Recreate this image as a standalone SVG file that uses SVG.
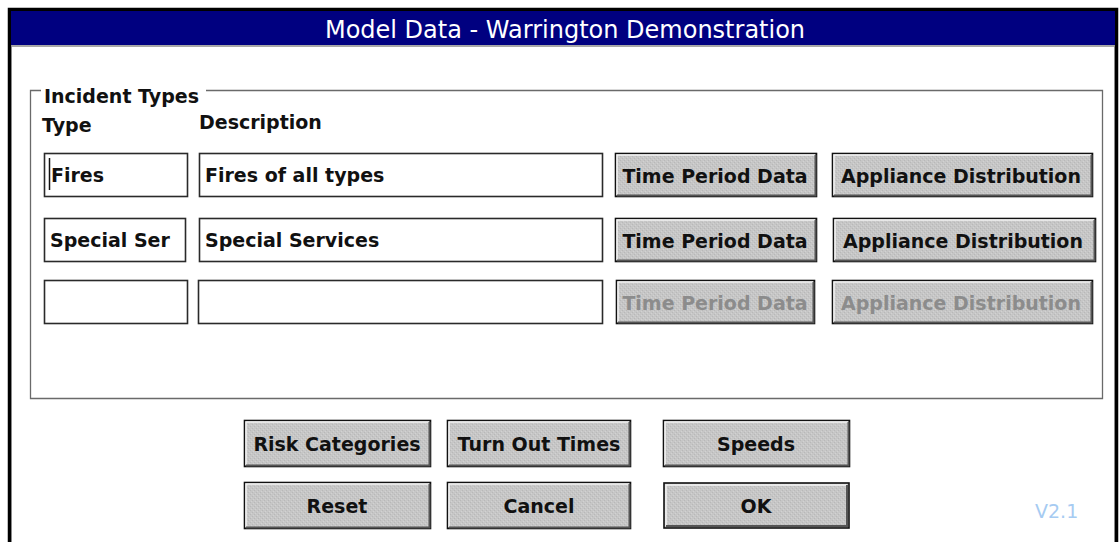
<svg xmlns="http://www.w3.org/2000/svg" width="1120" height="542" viewBox="0 0 1120 542">
<defs>
<pattern id="dith" width="4" height="4" patternUnits="userSpaceOnUse">
<rect width="4" height="4" fill="#c6c6c6"/>
<rect x="0" y="0" width="1" height="1" fill="#b8b8b8"/>
<rect x="2" y="2" width="1" height="1" fill="#b8b8b8"/>
<rect x="1" y="3" width="1" height="1" fill="#d2d2d2"/>
<rect x="3" y="1" width="1" height="1" fill="#d2d2d2"/>
</pattern>
</defs>
<style>
.btn{fill:url(#dith);stroke:#111;stroke-width:1.6}
.hl{fill:none;stroke:#f4f4f4;stroke-width:1.5}
.sh{fill:none;stroke:#555;stroke-width:2}
.bt{font-family:"DejaVu Sans",Verdana,sans-serif;font-weight:bold;font-size:19px;fill:#111;text-anchor:middle}
.dis{fill:#8c8c8c}
.lbl{font-family:"DejaVu Sans",Verdana,sans-serif;font-weight:bold;font-size:19px;fill:#111}
.box{fill:#fff;stroke:#2a2a2a;stroke-width:1.6}
</style>
<rect width="1120" height="542" fill="#fff"/>
<g id="window">
<rect x="9.5" y="9.5" width="1107" height="540" fill="#fff" stroke="#000" stroke-width="3.5"/>
<rect x="11" y="11" width="1104" height="34" fill="#000080"/>
<line x1="11" y1="46" x2="1115" y2="46" fill="none" stroke="#8a8a8a" stroke-width="1.5"/>
<line x1="11.5" y1="46" x2="11.5" y2="542" stroke="#8a8a8a" stroke-width="1"/>
<line x1="1114.5" y1="46" x2="1114.5" y2="542" stroke="#8a8a8a" stroke-width="1"/>
<text x="565" y="38" text-anchor="middle" font-family="'DejaVu Sans',Verdana,sans-serif" font-size="24" fill="#fff">Model Data - Warrington Demonstration</text>
</g>
<g id="group-incident-types">
<path d="M41 90.5 H30.5 V398.5 H1102.5 V90.5 H206" fill="none" stroke="#6a6a6a" stroke-width="1.3"/>
<text class="lbl" x="44" y="103">Incident Types</text>
<text class="lbl" x="42" y="132">Type</text>
<text class="lbl" x="199" y="129">Description</text>
</g>
<g id="row1">
<rect class="box" x="44.5" y="153.5" width="143" height="43"/>
<line x1="49.5" y1="158" x2="49.5" y2="190" stroke="#111" stroke-width="1.5"/>
<text class="lbl" x="51" y="182">Fires</text>
<rect class="box" x="199.5" y="153.5" width="403" height="43"/>
<text class="lbl" x="205" y="182">Fires of all types</text>
</g>
<g id="row2">
<rect class="box" x="44.5" y="218.5" width="141" height="43"/>
<text class="lbl" x="50" y="247">Special Ser</text>
<rect class="box" x="199.5" y="218.5" width="403" height="43"/>
<text class="lbl" x="205" y="247">Special Services</text>
</g>
<g id="row3">
<rect class="box" x="44.5" y="280.5" width="143" height="43"/>
<rect class="box" x="198.5" y="280.5" width="404" height="43"/>
</g>
<g id="btn-tpd1">
<rect class="btn" x="615.5" y="153.5" width="201" height="43"/>
<path class="hl" d="M617 195 V155 H815"/><path class="sh" d="M617 195.5 H815.5 V155"/>
<text class="bt" x="715" y="183">Time Period Data</text>
</g>
<g id="btn-ad1">
<rect class="btn" x="832.5" y="153.5" width="260" height="43"/>
<path class="hl" d="M834 195 V155 H1091"/><path class="sh" d="M834 195.5 H1091.5 V155"/>
<text class="bt" x="961" y="183">Appliance Distribution</text>
</g>
<g id="btn-tpd2">
<rect class="btn" x="615.5" y="218.5" width="201" height="43"/>
<path class="hl" d="M617 260 V220 H815"/><path class="sh" d="M617 260.5 H815.5 V220"/>
<text class="bt" x="715" y="248">Time Period Data</text>
</g>
<g id="btn-ad2">
<rect class="btn" x="833.5" y="218.5" width="262" height="43"/>
<path class="hl" d="M835 260 V220 H1094"/><path class="sh" d="M835 260.5 H1094.5 V220"/>
<text class="bt" x="963" y="248">Appliance Distribution</text>
</g>
<g id="btn-tpd3">
<rect class="btn" x="616.5" y="280.5" width="198" height="43"/>
<path class="hl" d="M618 322 V282 H813"/><path class="sh" d="M618 322.5 H813.5 V282"/>
<text class="bt dis" x="715" y="310">Time Period Data</text>
</g>
<g id="btn-ad3">
<rect class="btn" x="832.5" y="280.5" width="260" height="43"/>
<path class="hl" d="M834 322 V282 H1091"/><path class="sh" d="M834 322.5 H1091.5 V282"/>
<text class="bt dis" x="961" y="310">Appliance Distribution</text>
</g>
<g id="btn-risk">
<rect class="btn" x="244.5" y="420.5" width="186" height="46"/>
<path class="hl" d="M246 465 V422 H429"/><path class="sh" d="M246 465.5 H429.5 V422"/>
<text class="bt" x="337" y="451">Risk Categories</text>
</g>
<g id="btn-turnout">
<rect class="btn" x="447.5" y="420.5" width="183" height="46"/>
<path class="hl" d="M449 465 V422 H629"/><path class="sh" d="M449 465.5 H629.5 V422"/>
<text class="bt" x="539" y="451">Turn Out Times</text>
</g>
<g id="btn-speeds">
<rect class="btn" x="663.5" y="420.5" width="186" height="46"/>
<path class="hl" d="M665 465 V422 H848"/><path class="sh" d="M665 465.5 H848.5 V422"/>
<text class="bt" x="756" y="451">Speeds</text>
</g>
<g id="btn-reset">
<rect class="btn" x="244.5" y="482.5" width="186" height="46"/>
<path class="hl" d="M246 527 V484 H429"/><path class="sh" d="M246 527.5 H429.5 V484"/>
<text class="bt" x="337" y="513">Reset</text>
</g>
<g id="btn-cancel">
<rect class="btn" x="447.5" y="482.5" width="183" height="46"/>
<path class="hl" d="M449 527 V484 H629"/><path class="sh" d="M449 527.5 H629.5 V484"/>
<text class="bt" x="539" y="513">Cancel</text>
</g>
<g id="btn-ok">
<rect class="btn" x="664" y="483" width="185" height="45" stroke-width="3"/>
<path class="hl" d="M666 526 V485 H847"/><path class="sh" d="M666 526 H847 V485"/>
<text class="bt" x="756" y="513">OK</text>
</g>
<g id="version">
<text x="1035" y="518" font-family="'DejaVu Sans',Verdana,sans-serif" font-size="19" fill="#a6cbf2">V2.1</text>
</g>
</svg>
